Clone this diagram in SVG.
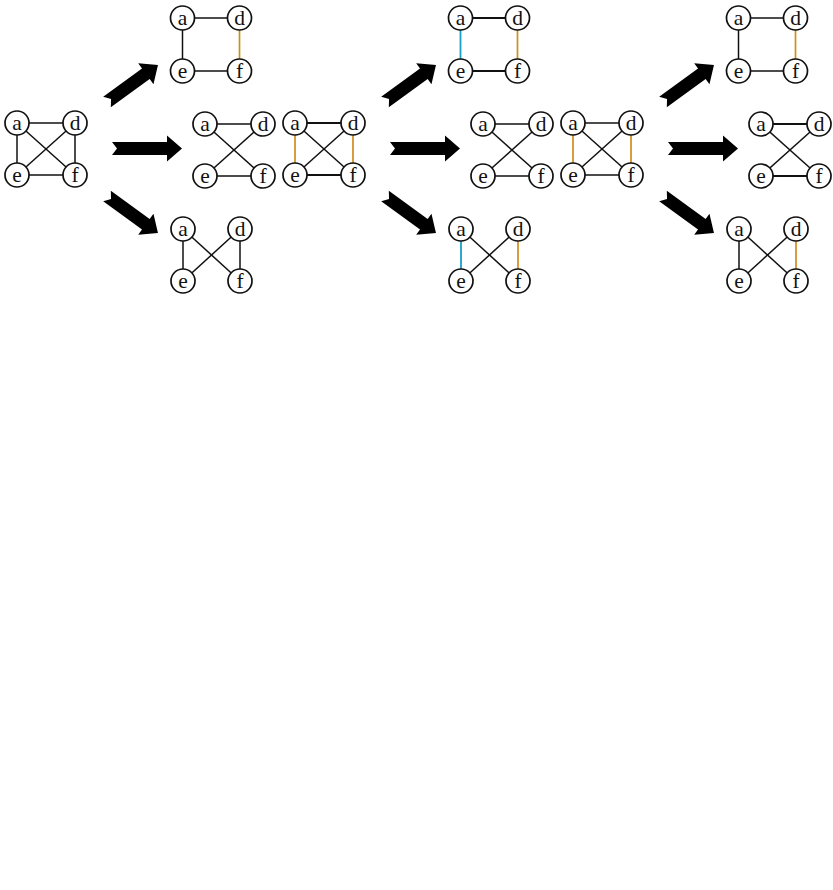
<svg xmlns="http://www.w3.org/2000/svg" width="833" height="890" viewBox="0 0 833 890">
<style>
.e{stroke:#111;stroke-width:1.5;fill:none}
.t{stroke-width:2}
.o{stroke:#d08c1c;stroke-width:1.7}
.c{stroke:#1a9ec6;stroke-width:1.8}
.n circle{fill:#fff;stroke:#111;stroke-width:1.7}
.n text{font-family:"Liberation Serif","Times New Roman",serif;font-size:21.5px;text-anchor:middle;fill:#111}
.arr{fill:#000}
</style>
<defs>
<path id="arrL" class="arr" d="M0,-6.5 L55,-6.5 L55,-13 L70,0 L55,13 L55,6.5 L0,6.5 L5,0 Z"/>
<path id="arrS" class="arr" d="M0,-6.5 L48,-6.5 L48,-13 L63,0 L48,13 L48,6.5 L0,6.5 L5,0 Z"/>
</defs>
<rect width="833" height="890" fill="#fff"/>
<g id="connectors">
 <g id="edges-1">
  <line class="e" x1="17" y1="123" x2="75" y2="123"/>
  <line class="e" x1="17" y1="175" x2="75" y2="175"/>
  <line class="e" x1="17" y1="123" x2="17" y2="175"/>
  <line class="e" x1="75" y1="123" x2="75" y2="175"/>
  <line class="e" x1="17" y1="123" x2="75" y2="175"/>
  <line class="e" x1="75" y1="123" x2="17" y2="175"/>
  <line class="e" x1="182.5" y1="18" x2="239.5" y2="18"/>
  <line class="e" x1="182.5" y1="18" x2="182.5" y2="71"/>
  <line class="e o" x1="239.5" y1="18" x2="239.5" y2="71"/>
  <line class="e" x1="182.5" y1="71" x2="239.5" y2="71"/>
  <line class="e" x1="205" y1="124" x2="263" y2="124"/>
  <line class="e" x1="205" y1="176" x2="263" y2="176"/>
  <line class="e" x1="205" y1="124" x2="263" y2="176"/>
  <line class="e" x1="263" y1="124" x2="205" y2="176"/>
  <line class="e" x1="183" y1="229" x2="183" y2="281"/>
  <line class="e" x1="240" y1="229" x2="240" y2="281"/>
  <line class="e" x1="183" y1="229" x2="240" y2="281"/>
  <line class="e" x1="240" y1="229" x2="183" y2="281"/>
 </g>
 <g id="edges-2" transform="translate(278,0)">
  <line class="e t" x1="17" y1="123" x2="75" y2="123"/>
  <line class="e t" x1="17" y1="175" x2="75" y2="175"/>
  <line class="e o" x1="17" y1="123" x2="17" y2="175"/>
  <line class="e o" x1="75" y1="123" x2="75" y2="175"/>
  <line class="e" x1="17" y1="123" x2="75" y2="175"/>
  <line class="e" x1="75" y1="123" x2="17" y2="175"/>
  <line class="e t" x1="182.5" y1="18" x2="239.5" y2="18"/>
  <line class="e c" x1="182.5" y1="18" x2="182.5" y2="71"/>
  <line class="e o" x1="239.5" y1="18" x2="239.5" y2="71"/>
  <line class="e t" x1="182.5" y1="71" x2="239.5" y2="71"/>
  <line class="e" x1="205" y1="124" x2="263" y2="124"/>
  <line class="e" x1="205" y1="176" x2="263" y2="176"/>
  <line class="e" x1="205" y1="124" x2="263" y2="176"/>
  <line class="e" x1="263" y1="124" x2="205" y2="176"/>
  <line class="e c" x1="183" y1="229" x2="183" y2="281"/>
  <line class="e o" x1="240" y1="229" x2="240" y2="281"/>
  <line class="e" x1="183" y1="229" x2="240" y2="281"/>
  <line class="e" x1="240" y1="229" x2="183" y2="281"/>
 </g>
 <g id="edges-3" transform="translate(556,0)">
  <line class="e" x1="17" y1="123" x2="75" y2="123"/>
  <line class="e" x1="17" y1="175" x2="75" y2="175"/>
  <line class="e o" x1="17" y1="123" x2="17" y2="175"/>
  <line class="e o" x1="75" y1="123" x2="75" y2="175"/>
  <line class="e" x1="17" y1="123" x2="75" y2="175"/>
  <line class="e" x1="75" y1="123" x2="17" y2="175"/>
  <line class="e" x1="182.5" y1="18" x2="239.5" y2="18"/>
  <line class="e" x1="182.5" y1="18" x2="182.5" y2="71"/>
  <line class="e o" x1="239.5" y1="18" x2="239.5" y2="71"/>
  <line class="e" x1="182.5" y1="71" x2="239.5" y2="71"/>
  <line class="e t" x1="205" y1="124" x2="263" y2="124"/>
  <line class="e t" x1="205" y1="176" x2="263" y2="176"/>
  <line class="e" x1="205" y1="124" x2="263" y2="176"/>
  <line class="e" x1="263" y1="124" x2="205" y2="176"/>
  <line class="e" x1="183" y1="229" x2="183" y2="281"/>
  <line class="e o" x1="240" y1="229" x2="240" y2="281"/>
  <line class="e" x1="183" y1="229" x2="240" y2="281"/>
  <line class="e" x1="240" y1="229" x2="183" y2="281"/>
 </g>
 <g id="arrows">
  <use href="#arrS" transform="translate(107,102) rotate(-36)"/>
  <use href="#arrL" transform="translate(112,148.5)"/>
  <use href="#arrS" transform="translate(107,196) rotate(36)"/>
  <use href="#arrS" transform="translate(385,102) rotate(-36)"/>
  <use href="#arrL" transform="translate(390,148.5)"/>
  <use href="#arrS" transform="translate(385,196) rotate(36)"/>
  <use href="#arrS" transform="translate(663,102) rotate(-36)"/>
  <use href="#arrL" transform="translate(668,148.5)"/>
  <use href="#arrS" transform="translate(663,196) rotate(36)"/>
 </g>
</g>
<g id="nodes">
 <g id="g1-L-a" class="n" transform="translate(17,123)"><circle r="12"/><text y="7">a</text></g>
 <g id="g1-L-d" class="n" transform="translate(75,123)"><circle r="12"/><text y="7">d</text></g>
 <g id="g1-L-e" class="n" transform="translate(17,175)"><circle r="12"/><text y="7">e</text></g>
 <g id="g1-L-f" class="n" transform="translate(75,175)"><circle r="12"/><text y="7">f</text></g>
 <g id="g1-T-a" class="n" transform="translate(182.5,18)"><circle r="12"/><text y="7">a</text></g>
 <g id="g1-T-d" class="n" transform="translate(239.5,18)"><circle r="12"/><text y="7">d</text></g>
 <g id="g1-T-e" class="n" transform="translate(182.5,71)"><circle r="12"/><text y="7">e</text></g>
 <g id="g1-T-f" class="n" transform="translate(239.5,71)"><circle r="12"/><text y="7">f</text></g>
 <g id="g1-M-a" class="n" transform="translate(205,124)"><circle r="12"/><text y="7">a</text></g>
 <g id="g1-M-d" class="n" transform="translate(263,124)"><circle r="12"/><text y="7">d</text></g>
 <g id="g1-M-e" class="n" transform="translate(205,176)"><circle r="12"/><text y="7">e</text></g>
 <g id="g1-M-f" class="n" transform="translate(263,176)"><circle r="12"/><text y="7">f</text></g>
 <g id="g1-B-a" class="n" transform="translate(183,229)"><circle r="12"/><text y="7">a</text></g>
 <g id="g1-B-d" class="n" transform="translate(240,229)"><circle r="12"/><text y="7">d</text></g>
 <g id="g1-B-e" class="n" transform="translate(183,281)"><circle r="12"/><text y="7">e</text></g>
 <g id="g1-B-f" class="n" transform="translate(240,281)"><circle r="12"/><text y="7">f</text></g>

 <g id="g2-L-a" class="n" transform="translate(295,123)"><circle r="12"/><text y="7">a</text></g>
 <g id="g2-L-d" class="n" transform="translate(353,123)"><circle r="12"/><text y="7">d</text></g>
 <g id="g2-L-e" class="n" transform="translate(295,175)"><circle r="12"/><text y="7">e</text></g>
 <g id="g2-L-f" class="n" transform="translate(353,175)"><circle r="12"/><text y="7">f</text></g>
 <g id="g2-T-a" class="n" transform="translate(460.5,18)"><circle r="12"/><text y="7">a</text></g>
 <g id="g2-T-d" class="n" transform="translate(517.5,18)"><circle r="12"/><text y="7">d</text></g>
 <g id="g2-T-e" class="n" transform="translate(460.5,71)"><circle r="12"/><text y="7">e</text></g>
 <g id="g2-T-f" class="n" transform="translate(517.5,71)"><circle r="12"/><text y="7">f</text></g>
 <g id="g2-M-a" class="n" transform="translate(483,124)"><circle r="12"/><text y="7">a</text></g>
 <g id="g2-M-d" class="n" transform="translate(541,124)"><circle r="12"/><text y="7">d</text></g>
 <g id="g2-M-e" class="n" transform="translate(483,176)"><circle r="12"/><text y="7">e</text></g>
 <g id="g2-M-f" class="n" transform="translate(541,176)"><circle r="12"/><text y="7">f</text></g>
 <g id="g2-B-a" class="n" transform="translate(461,229)"><circle r="12"/><text y="7">a</text></g>
 <g id="g2-B-d" class="n" transform="translate(518,229)"><circle r="12"/><text y="7">d</text></g>
 <g id="g2-B-e" class="n" transform="translate(461,281)"><circle r="12"/><text y="7">e</text></g>
 <g id="g2-B-f" class="n" transform="translate(518,281)"><circle r="12"/><text y="7">f</text></g>

 <g id="g3-L-a" class="n" transform="translate(573,123)"><circle r="12"/><text y="7">a</text></g>
 <g id="g3-L-d" class="n" transform="translate(631,123)"><circle r="12"/><text y="7">d</text></g>
 <g id="g3-L-e" class="n" transform="translate(573,175)"><circle r="12"/><text y="7">e</text></g>
 <g id="g3-L-f" class="n" transform="translate(631,175)"><circle r="12"/><text y="7">f</text></g>
 <g id="g3-T-a" class="n" transform="translate(738.5,18)"><circle r="12"/><text y="7">a</text></g>
 <g id="g3-T-d" class="n" transform="translate(795.5,18)"><circle r="12"/><text y="7">d</text></g>
 <g id="g3-T-e" class="n" transform="translate(738.5,71)"><circle r="12"/><text y="7">e</text></g>
 <g id="g3-T-f" class="n" transform="translate(795.5,71)"><circle r="12"/><text y="7">f</text></g>
 <g id="g3-M-a" class="n" transform="translate(761,124)"><circle r="12"/><text y="7">a</text></g>
 <g id="g3-M-d" class="n" transform="translate(819,124)"><circle r="12"/><text y="7">d</text></g>
 <g id="g3-M-e" class="n" transform="translate(761,176)"><circle r="12"/><text y="7">e</text></g>
 <g id="g3-M-f" class="n" transform="translate(819,176)"><circle r="12"/><text y="7">f</text></g>
 <g id="g3-B-a" class="n" transform="translate(739,229)"><circle r="12"/><text y="7">a</text></g>
 <g id="g3-B-d" class="n" transform="translate(796,229)"><circle r="12"/><text y="7">d</text></g>
 <g id="g3-B-e" class="n" transform="translate(739,281)"><circle r="12"/><text y="7">e</text></g>
 <g id="g3-B-f" class="n" transform="translate(796,281)"><circle r="12"/><text y="7">f</text></g>
</g>
</svg>
